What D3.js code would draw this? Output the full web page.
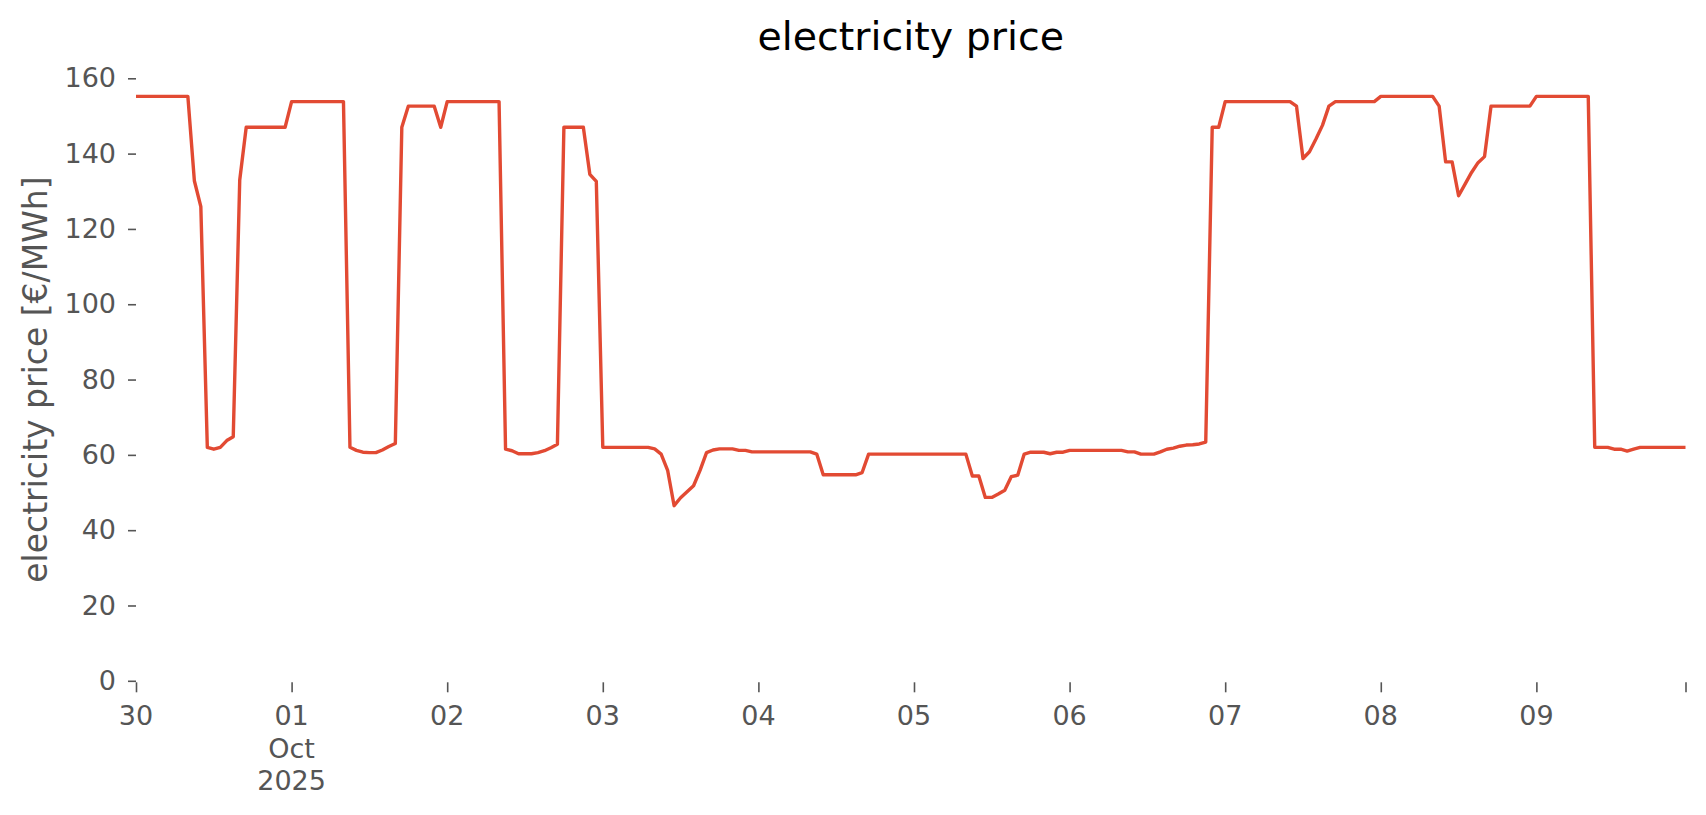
<!DOCTYPE html>
<html><head><meta charset="utf-8">
<script src="https://cdn.jsdelivr.net/npm/d3@7"></script>
<style>body{margin:0;background:#fff} svg{display:block}</style>
</head><body><svg id="chart" width="1706" height="815"></svg>
<script>
const startTime = "2025-09-30T00:00:00Z";
const endTime = "2025-10-09T23:00:00Z";
// hourly electricity price [€/MWh]
const prices = [
  155.2,155.2,155.2,155.2,155.2,155.2,155.2,155.2,155.2,132.8,125.9,62.0,61.5,62.0,63.8,64.8,133.0,147.0,147.0,147.0,147.0,147.0,147.0,147.0,
  153.8,153.8,153.8,153.8,153.8,153.8,153.8,153.8,153.8,62.0,61.2,60.7,60.6,60.6,61.3,62.2,63.0,147.0,152.6,152.6,152.6,152.6,152.6,147.0,
  153.8,153.8,153.8,153.8,153.8,153.8,153.8,153.8,153.8,61.5,61.1,60.3,60.3,60.3,60.6,61.1,61.9,62.8,147.0,147.0,147.0,147.0,134.5,132.6,
  62.0,62.0,62.0,62.0,62.0,62.0,62.0,62.0,61.6,60.2,55.9,46.5,48.6,50.2,51.8,55.9,60.6,61.3,61.6,61.6,61.6,61.2,61.2,60.8,
  60.8,60.8,60.8,60.8,60.8,60.8,60.8,60.8,60.8,60.2,54.7,54.7,54.7,54.7,54.7,54.7,55.3,60.2,60.2,60.2,60.2,60.2,60.2,60.2,
  60.2,60.2,60.2,60.2,60.2,60.2,60.2,60.2,60.2,54.4,54.4,48.7,48.7,49.6,50.6,54.2,54.6,60.2,60.7,60.7,60.7,60.3,60.7,60.7,
  61.2,61.2,61.2,61.2,61.2,61.2,61.2,61.2,61.2,60.8,60.8,60.2,60.2,60.2,60.8,61.5,61.8,62.3,62.6,62.7,62.9,63.4,147.0,147.0,
  153.8,153.8,153.8,153.8,153.8,153.8,153.8,153.8,153.8,153.8,153.8,152.6,138.7,140.5,143.9,147.5,152.6,153.8,153.8,153.8,153.8,153.8,153.8,153.8,
  155.2,155.2,155.2,155.2,155.2,155.2,155.2,155.2,155.2,152.6,137.8,137.8,128.8,131.9,135.0,137.6,139.2,152.6,152.6,152.6,152.6,152.6,152.6,152.6,
  155.2,155.2,155.2,155.2,155.2,155.2,155.2,155.2,155.2,62.0,62.0,62.0,61.5,61.5,61.0,61.5,62.0,62.0,62.0,62.0,62.0,62.0,62.0,62.0
];
const yTicks = [0,20,40,60,80,100,120,140,160];
const dayTicks = ["2025-09-30","2025-10-01","2025-10-02","2025-10-03","2025-10-04","2025-10-05","2025-10-06","2025-10-07","2025-10-08","2025-10-09"];
const dayLabels = [["30"],["01","Oct","2025"],["02"],["03"],["04"],["05"],["06"],["07"],["08"],["09"]];
const titleText = "electricity price";
const yLabelText = "electricity price [€/MWh]";

const svg = d3.select("#chart");
const FONT = "DejaVu Sans, sans-serif";
const m = {left: 136, right: 1685.5, top: 78.3, bottom: 680.8};

const t0 = new Date(startTime);
const data = prices.map((v, i) => ({t: d3.utcHour.offset(t0, i), v}));

const x = d3.scaleUtc().domain([t0, new Date(endTime)]).range([m.left, m.right]);
const y = d3.scaleLinear().domain([0, 160]).range([m.bottom, m.top]);

// y axis
const yAxis = svg.append("g").attr("transform", `translate(${m.left},0)`)
  .call(d3.axisLeft(y).tickValues(yTicks).tickSize(8).tickPadding(12));
yAxis.select(".domain").remove();
yAxis.selectAll(".tick line").attr("stroke", "#555555").attr("stroke-width", 1.6);
yAxis.selectAll(".tick text").attr("fill", "#555555").attr("font-family", FONT).attr("font-size", 27);

// x axis
const xTickDates = dayTicks.map(d => new Date(d + "T00:00:00Z")).concat([new Date(endTime)]);
const xAxis = svg.append("g").attr("transform", `translate(0,${m.bottom + 1.5})`)
  .call(d3.axisBottom(x).tickValues(xTickDates).tickSize(10).tickFormat(() => ""));
xAxis.select(".domain").remove();
xAxis.selectAll(".tick line").attr("stroke", "#555555").attr("stroke-width", 1.6);
xAxis.selectAll(".tick text").remove();
const labG = svg.append("g").attr("fill", "#555555").attr("font-family", FONT).attr("font-size", 27).attr("text-anchor", "middle");
dayTicks.forEach((d, i) => {
  const tx = labG.append("text").attr("x", x(new Date(d + "T00:00:00Z")));
  dayLabels[i].forEach((s, j) => {
    tx.append("tspan").attr("x", x(new Date(d + "T00:00:00Z"))).attr("y", 725 + j * 32.5).text(s);
  });
});

// line
svg.append("path").datum(data)
  .attr("fill", "none").attr("stroke", "#E24A33").attr("stroke-width", 3.4)
  .attr("stroke-linejoin", "round")
  .attr("d", d3.line().x(d => x(d.t)).y(d => y(d.v)));

// title
svg.append("text").attr("x", (m.left + m.right) / 2).attr("y", 50)
  .attr("text-anchor", "middle").attr("font-family", FONT).attr("font-size", 39.5)
  .attr("fill", "#000").text(titleText);

// y label
svg.append("text").attr("transform", `translate(47,${(m.top + m.bottom) / 2}) rotate(-90)`)
  .attr("text-anchor", "middle").attr("font-family", FONT).attr("font-size", 33)
  .attr("fill", "#555555").text(yLabelText);
</script></body></html>
